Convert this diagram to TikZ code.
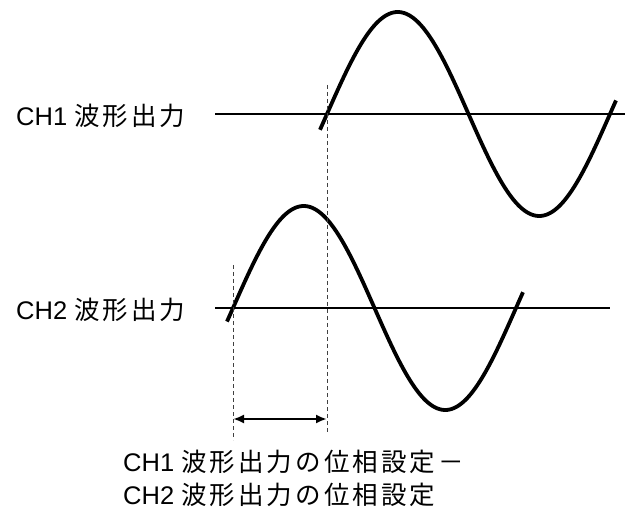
\documentclass[tikz,border=0pt]{standalone}
\usepackage{fontspec}
\setmainfont{Liberation Sans}
\newfontfamily\jp[LetterSpace=12]{Noto Sans CJK JP}
\usetikzlibrary{arrows.meta}

\begin{document}
\begin{tikzpicture}[x=1pt,y=-1pt,
  every node/.style={font=\fontsize{25.5}{36}\selectfont,inner sep=0pt},
  wave/.style={line width=3.8pt},
  axisline/.style={line width=1.8pt},
  guide/.style={line width=1pt,black!75,dash pattern=on 4pt off 3pt}]
  \useasboundingbox (0,0) rectangle (627,513);
  % channel labels
  \node[anchor=west] (lbl1) at (16,116) {CH1 {\jp 波形出力}};
  \node[anchor=west] (lbl2) at (16,310) {CH2 {\jp 波形出力}};
  % zero lines
  \coordinate (ax1s) at (215,114);
  \coordinate (ax1e) at (625,114);
  \coordinate (ax2s) at (215,308);
  \coordinate (ax2e) at (610,308);
  \draw[axisline] (ax1s) -- (ax1e);
  \draw[axisline] (ax2s) -- (ax2e);
  % waveforms
  \draw[wave] plot[domain=320:616,samples=150,smooth] (\x,{114-102*sin((\x-327)/141.5*180)});
  \draw[wave] plot[domain=227:523,samples=150,smooth] (\x,{308-102*sin((\x-233)/141.5*180)});
  % phase guides
  \coordinate (g1t) at (233,265);
  \coordinate (g1b) at (233,440);
  \coordinate (g2t) at (327,85);
  \coordinate (g2b) at (327,432);
  \draw[guide] (g1t) -- (g1b);
  \draw[guide] (g2t) -- (g2b);
  \coordinate (ph1) at (233,419);
  \coordinate (ph2) at (327,419);
  \draw[line width=2.4pt,{Latex[length=11pt,width=9pt]}-{Latex[length=11pt,width=9pt]}] (ph1) -- (ph2);
  % note
  \node[anchor=west] (note1) at (123,462) {CH1 {\jp 波形出力の位相設定－}};
  \node[anchor=west] (note2) at (123,495) {CH2 {\jp 波形出力の位相設定}};
\end{tikzpicture}
\end{document}
